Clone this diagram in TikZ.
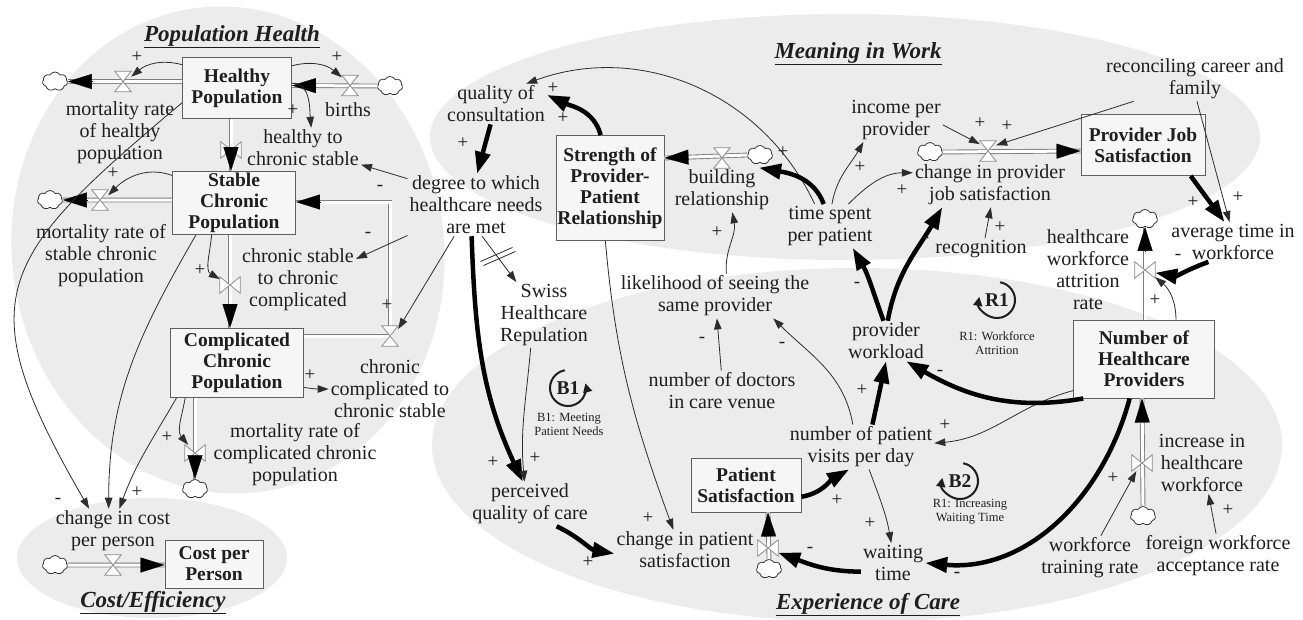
\documentclass[tikz,border=0pt]{standalone}
\usepackage{fontspec}
\setmainfont{Liberation Serif}
\usetikzlibrary{arrows.meta,shapes.symbols,calc}
\definecolor{bgc}{RGB}{236,236,236}
\definecolor{boxc}{RGB}{95,95,95}
\definecolor{pipec}{RGB}{125,125,125}
\definecolor{valc}{RGB}{140,140,140}
\definecolor{txt}{RGB}{30,30,30}
\definecolor{linkc}{RGB}{45,45,45}
\newcommand\fv{\fontsize{20}{22}\selectfont}
\newcommand\fbx{\fontsize{19.5}{21}\selectfont\bfseries}
\newcommand\fsm{\fontsize{12.5}{14}\selectfont}
\newcommand\fsg{\fontsize{19}{19}\selectfont}
\newcommand\ftitle{\fontsize{23}{23}\selectfont\bfseries\itshape}
\newcommand\valveH[1]{\draw[valc, line width=0.8pt, fill=white] (#1.north west) -- (#1.north east) -- (#1.center) -- cycle (#1.south west) -- (#1.south east) -- (#1.center) -- cycle;}
\newcommand\valveV[1]{\draw[valc, line width=0.8pt, fill=white] (#1.north west) -- (#1.south west) -- (#1.center) -- cycle (#1.north east) -- (#1.south east) -- (#1.center) -- cycle;}
\newcommand\phead[2]{\draw[phd] ($(#2)!24pt!(#1)$) -- (#2);}
\tikzset{
 var/.style={font=\fv, text=txt, align=center, inner sep=2pt},
 stock/.style={draw=boxc, line width=0.9pt, fill=white!55!bgc, font=\fbx, text=txt, align=center, inner sep=0pt},
 pipe/.style={draw=pipec, line width=0.9pt, double=white, double distance=3pt},
 phd/.style={-{Triangle[length=24pt,width=15pt]}, line width=0.3pt, draw=black},
 vH/.style={inner sep=0pt, minimum width=16pt, minimum height=20pt},
 vV/.style={inner sep=0pt, minimum width=20pt, minimum height=16pt},
 cld/.style={cloud, cloud puffs=7, cloud puff arc=120, aspect=1.3, draw=black!80, line width=0.8pt, fill=white, minimum width=25pt, minimum height=19pt, inner sep=0pt},
 lk/.style={draw=linkc, line width=0.8pt, -{Triangle[length=11pt,width=7.5pt]}},
 tk/.style={draw=black, line width=4.5pt, -{Triangle[length=22pt,width=15pt]}},
 sg/.style={font=\fsg, text=txt, inner sep=0pt},
 lbl/.style={font=\fsm, text=txt, align=center, inner sep=0pt},
 ttl/.style={font=\ftitle, text=txt, inner sep=0pt, anchor=base},
 lp/.style={line width=2pt, draw=txt, -{Triangle[length=9pt,width=9pt]}},
}
\begin{document}
\begin{tikzpicture}[x=1pt,y=1pt]
\useasboundingbox (0,0) rectangle (1303,-619);
\fill[white] (0,0) rectangle (1303,-619);
% background regions
\fill[bgc, rotate around={8:(228,-250)}] (228,-250) ellipse[x radius=216, y radius=244];
\fill[bgc] (152,-558) ellipse[x radius=135, y radius=60];
\fill[bgc] (845,-137) ellipse[x radius=415, y radius=123];
\fill[bgc] (857,-445) ellipse[x radius=425, y radius=177];
% titles
\node[ttl] (tPH) at (232,-41) {\underline{Population Health}};
\node[ttl] (tMW) at (858,-58) {\underline{Meaning in Work}};
\node[ttl] (tEC) at (868,-609) {\underline{Experience of Care}};
\node[ttl] (tCE) at (153,-607) {\underline{Cost/Efficiency}};
% stocks
\node[stock, minimum width=109pt, minimum height=61pt] (HP) at (237,-88) {Healthy\\Population};
\node[stock, minimum width=123pt, minimum height=63pt] (SC) at (234,-203) {Stable\\Chronic\\Population};
\node[stock, minimum width=133pt, minimum height=69pt] (CC) at (237,-363) {Complicated\\Chronic\\Population};
\node[stock, minimum width=98pt, minimum height=48pt] (CPP) at (214,-564) {Cost per\\Person};
\node[stock, minimum width=108pt, minimum height=105pt] (SR) at (610,-188) {Strength of\\Provider-\\Patient\\Relationship};
\node[stock, minimum width=124pt, minimum height=61pt] (PJS) at (1143,-145) {Provider Job\\Satisfaction};
\node[stock, minimum width=141pt, minimum height=78pt] (NHP) at (1144,-359) {Number of\\Healthcare\\Providers};
\node[stock, minimum width=110pt, minimum height=54pt] (PS) at (746,-485) {Patient\\Satisfaction};
% valves (placeholders)
\node[vH] (v1) at (123,-81.5) {};
\node[vH] (v2) at (350,-85.5) {};
\node[vV] (v3) at (231,-150) {};
\node[vH] (v4) at (100,-200) {};
\node[vV] (v5) at (230,-285) {};
\node[vH] (v6) at (390,-336) {};
\node[vV] (v7) at (195,-453) {};
\node[vH] (v8) at (113,-565) {};
\node[vH] (v9) at (722,-158) {};
\node[vH] (v10) at (988,-151) {};
\node[vV] (v11) at (1145,-270) {};
\node[vV] (v12) at (1142,-463) {};
\node[vV] (v13) at (768,-548) {};
\coordinate (k6) at (390,-202);
% clouds
\node[cld] (c1) at (55,-81.5) {};
\node[cld] (c2) at (390,-86) {};
\node[cld] (c4) at (50,-200) {};
\node[cld] (c7) at (195,-489) {};
\node[cld] (c8) at (55,-565) {};
\node[cld] (c9) at (760,-155) {};
\node[cld] (c10) at (930,-152) {};
\node[cld] (c11) at (1145,-219) {};
\node[cld] (c12) at (1143,-516) {};
\node[cld] (c13) at (769,-569) {};
% pipe end points
\coordinate (p1a) at (HP.west |- v1); \coordinate (p1b) at (c1.east);
\coordinate (p2a) at (c2.west); \coordinate (p2b) at (HP.east |- v2);
\coordinate (p3a) at (HP.south -| v3); \coordinate (p3b) at (SC.north -| v3);
\coordinate (p4a) at (SC.west |- v4); \coordinate (p4b) at (c4.east);
\coordinate (p5a) at (SC.south -| v5); \coordinate (p5b) at (CC.north -| v5);
\coordinate (p6a) at (CC.east |- v6); \coordinate (p6b) at (SC.east |- k6);
\coordinate (p7a) at (CC.south -| v7); \coordinate (p7b) at (c7.north);
\coordinate (p8a) at (c8.east); \coordinate (p8b) at (CPP.west |- v8);
\coordinate (p9a) at (c9.west); \coordinate (p9b) at (SR.east |- v9);
\coordinate (p10a) at (c10.east); \coordinate (p10b) at (PJS.west |- v10);
\coordinate (p11a) at (NHP.north -| v11); \coordinate (p11b) at (c11.south);
\coordinate (p12a) at (c12.north); \coordinate (p12b) at (NHP.south -| v12);
\coordinate (p13a) at (c13.north); \coordinate (p13b) at (PS.south -| v13);
% pipes
\draw[pipe] (p1a) -- (p1b);
\draw[pipe] (p2a) -- (p2b);
\draw[pipe] (p3a) -- (p3b);
\draw[pipe] (p4a) -- (p4b);
\draw[pipe] (p5a) -- (p5b);
\draw[pipe] (p6a) -- (v6.center) -- (k6) -- (p6b);
\draw[pipe] (p7a) -- (p7b);
\draw[pipe] (p8a) -- (p8b);
\draw[pipe] (p9a) -- (p9b);
\draw[pipe] (p10a) -- (p10b);
\draw[pipe] (p11a) -- (p11b);
\draw[pipe] (p12a) -- (p12b);
\draw[pipe] (p13a) -- (p13b);
% valves
\valveH{v1}\valveH{v2}\valveV{v3}\valveH{v4}\valveV{v5}\valveH{v6}\valveV{v7}
\valveH{v8}\valveH{v9}\valveH{v10}\valveV{v11}\valveV{v12}\valveV{v13}
% pipe heads
\phead{p1a}{p1b}\phead{p2a}{p2b}\phead{p3a}{p3b}\phead{p4a}{p4b}\phead{p5a}{p5b}
\phead{k6}{p6b}\phead{p7a}{p7b}\phead{p8a}{p8b}\phead{p9a}{p9b}\phead{p10a}{p10b}
\phead{p11a}{p11b}\phead{p12a}{p12b}\phead{p13a}{p13b}
% auxiliaries
\node[var] (mrh) at (120,-133) {mortality rate\\of healthy\\population};
\node[var] (births) at (348,-110) {births};
\node[var] (h2c) at (303,-148) {healthy to\\chronic stable};
\node[var] (mrs) at (101,-256) {mortality rate of\\stable chronic\\population};
\node[var] (s2c) at (298,-280) {chronic stable\\to chronic\\complicated};
\node[var] (c2s) at (390,-389) {chronic\\complicated to\\chronic stable};
\node[var] (mrc) at (295,-455) {mortality rate of\\complicated chronic\\population};
\node[var] (cpp) at (113,-531) {change in cost\\per person};
\node[var] (qc) at (496,-104) {quality of\\consultation};
\node[var] (deg) at (476,-205) {degree to which\\healthcare needs\\are met};
\node[var] (shr) at (544,-315) {Swiss\\Healthcare\\Repulation};
\node[var] (pqc) at (530,-504) {perceived\\quality of care};
\node[var] (cps) at (685,-550) {change in patient\\satisfaction};
\node[var] (br) at (722,-190) {building\\relationship};
\node[var] (tsp) at (830,-226) {time spent\\per patient};
\node[var] (ipp) at (896,-120) {income per\\provider};
\node[var] (cpjs) at (990,-185) {change in provider\\job satisfaction};
\node[var] (rec) at (981,-249) {recognition};
\node[var] (rcf) at (1195,-79) {reconciling career and\\family};
\node[var] (atw) at (1233,-242) {average time in\\workforce};
\node[var] (hwar) at (1088,-270) {healthcare\\workforce\\attrition\\rate};
\node[var] (lsp) at (715,-296) {likelihood of seeing the\\same provider};
\node[var] (ndc) at (722,-391) {number of doctors\\in care venue};
\node[var] (pw) at (886,-341) {provider\\workload};
\node[var] (npv) at (861,-447) {number of patient\\visits per day};
\node[var] (wt) at (893,-563) {waiting\\time};
\node[var] (ihw) at (1202,-463) {increase in\\healthcare\\workforce};
\node[var] (wtr) at (1090,-558) {workforce\\training rate};
\node[var] (fwar) at (1218,-556) {foreign workforce\\acceptance rate};
% links: population health
\draw[lk] (HP.157) to[out=165,in=40] (v1.30);
\draw[lk] (HP.22) to[out=15,in=140] (v2.135);
\draw[lk] (HP.5) to[out=0,in=95] (h2c.68);
\draw[lk] (deg.159) -- (h2c.-16);
\draw[lk] (SC.156) to[out=160,in=45] (v4.30);
\draw[lk] (SC.-125) to[out=-95,in=150] (v5.150);
\draw[lk] (deg.-156) -- (s2c.20);
\draw[lk] (deg.-125) -- (v6.40);
\draw[lk] (CC.-20) to[out=-10,in=180] (c2s.west);
\draw[lk] (CC.-146) to[out=-100,in=130] (v7.130);
\draw[lk] (HP.-165) to[out=220,in=120,looseness=1.5] (cpp.137);
\draw[lk] (SC.-140) to[out=-120,in=90] (cpp.101);
\draw[lk] (CC.-150) to[out=-120,in=70] (cpp.74);
% links: meaning / experience
\draw[tk] (qc.-105) -- (deg.88);
\draw[tk] (SR.100) to[out=105,in=-25] (qc.10);
\draw[lk] (tsp.125) to[out=115,in=20] (qc.34);
\draw[tk] (deg.-98) to[out=-88,in=115] (pqc.108);
\draw[lk] (deg.-79) -- coordinate[pos=0.42] (dm) (shr.130);
\draw[linkc, line width=0.8pt] ($(dm)+(-16,-6)$) -- ($(dm)+(16,8)$) ($(dm)+(-13,-10)$) -- ($(dm)+(19,4)$);
\draw[lk] (shr.-112) to[out=-95,in=95] (pqc.104);
\draw[tk] (pqc.-40) to[out=-25,in=170] (cps.183);
\draw[lk] (SR.-95) to[out=-85,in=110] (cps.120);
\draw[tk] (PS.-12) to[out=10,in=-150] (npv.-118);
\draw[lk] (npv.-70) to[out=-70,in=100] (wt.95);
\draw[tk] (wt.195) to[out=180,in=-20] (v13.-25);
\draw[tk] (NHP.-110) to[out=-105,in=-5] (wt.0);
\draw[lk] (NHP.-156) to[out=195,in=5] (npv.3);
\draw[tk] (NHP.-147) to[out=190,in=-30] (pw.-45);
\draw[tk] (npv.63) -- (pw.-90);
\draw[lk] (npv.110) to[out=100,in=-45] (lsp.-21);
\draw[tk] (pw.97) to[out=110,in=-60] (tsp.-44);
\draw[tk] (pw.85) to[out=80,in=-120] (cpjs.-155);
\draw[tk] (tsp.106) to[out=110,in=-10] (br.31);
\draw[lk] (lsp.63) to[out=95,in=-80] (br.-65);
\draw[lk] (ndc.92) -- (lsp.-85);
\draw[lk] (tsp.85) to[out=80,in=-120] (ipp.-146);
\draw[lk] (tsp.50) to[out=45,in=180] (cpjs.171);
\draw[lk] (ipp.-6) -- (v10.140);
\draw[lk] (rcf.-160) -- (v10.35);
\draw[lk] (rcf.-85) -- (atw.100);
\draw[tk] (PJS.-33) -- (atw.113);
\draw[lk] (rec.70) -- (cpjs.-88);
\draw[tk] (atw.-141) to[out=200,in=-10] (v11.-15);
\draw[lk] (NHP.51) to[out=90,in=-40] (v11.-35);
\draw[lk] (wtr.64) -- (v12.-125);
\draw[lk] (fwar.95) -- (ihw.-78);
% polarity signs
\foreach \n/\x/\y/\s in {s1/137/57/+, s2/337/57/+, s3/293/110/+, s4/380/188/-, s5/113/173/+, s6/200/270/+, s7/368/235/-, s8/387/305/+, s9/310/375/+, s10/167/437/+, s11/58/501/-, s12/137/492/+, s13/463/143/+, s14/563/118/+, s15/553/88/+, s16/493/462/+, s17/535/458/+, s18/588/562/+, s19/648/518/+, s20/837/500/+, s21/870/523/+, s22/810/550/-, s23/957/575/-, s24/945/425/+, s25/940/373/-, s26/862/390/+, s27/782/345/-, s28/857/285/-, s29/926/240/-, s30/783/152/+, s31/717/232/+, s32/702/340/-, s33/860/167/+, s34/902/190/+, s35/980/123/+, s36/1007/126/+, s37/1238/197/+, s38/1193/202/+, s39/1000/227/+, s40/1178/257/-, s41/1155/300/+, s42/1113/478/+, s43/1228/510/+}
  \node[sg] (\n) at (\x,-\y) {\s};
% loops
\draw[lp] (568,-388) ++(100:18pt) arc[start angle=100, end angle=375, radius=18pt];
\node[font=\fbx, text=txt] (B1) at (568,-388) {B1};
\node[lbl] (B1l) at (569,-424) {B1: Meeting\\Patient Needs};
\draw[lp] (997,-300) ++(80:18pt) arc[start angle=80, end angle=-190, radius=18pt];
\node[font=\fbx, text=txt] (R1) at (997,-300) {R1};
\node[lbl] (R1l) at (997,-343) {R1: Workforce\\Attrition};
\draw[lp] (960,-481) ++(80:18pt) arc[start angle=80, end angle=-190, radius=18pt];
\node[font=\fbx, text=txt] (B2) at (960,-481) {B2};
\node[lbl] (B2l) at (970,-512) {R1: Increasing\\Waiting Time};
\end{tikzpicture}
\end{document}
